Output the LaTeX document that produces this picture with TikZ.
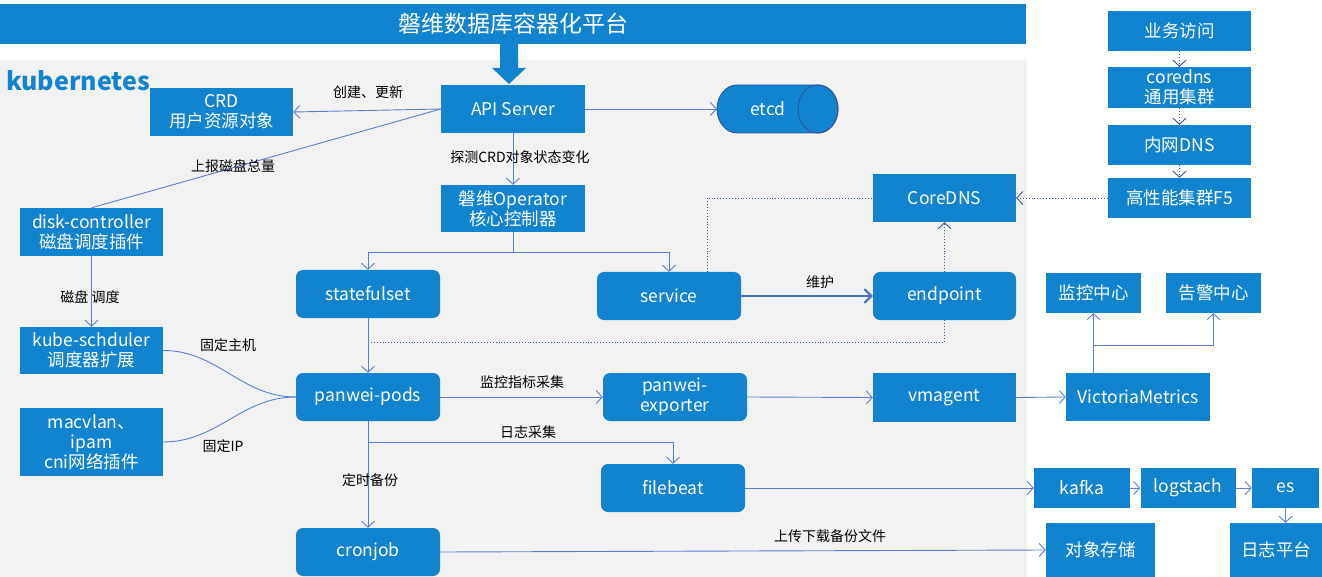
\documentclass[tikz,border=0pt]{standalone}
\usepackage{fontspec}
\setmainfont{Noto Sans CJK SC}
\usetikzlibrary{arrows.meta}
\definecolor{bl}{HTML}{1283CE}
\definecolor{ln}{HTML}{5A7FD2}
\definecolor{thk}{HTML}{4472C4}
\definecolor{dk}{HTML}{2F5597}
\definecolor{bg}{HTML}{F2F2F2}
\begin{document}
\begin{tikzpicture}[x=1pt,y=-1pt,
  box/.style={fill=bl,text=white,inner sep=0pt,align=center,font=\fontsize{17.5}{20}\selectfont},
  rbox/.style={box,rounded corners=7pt},
  lbl/.style={font=\fontsize{14}{16}\selectfont,text=black,inner sep=0pt},
  con/.style={draw=ln,line width=0.9pt},
  arr/.style={con,-{Straight Barb[length=6pt,width=13pt]}},
  dot/.style={draw=dk,line width=0.9pt,dotted},
  dotarr/.style={dot,-{Straight Barb[length=6pt,width=13pt]}}]
\useasboundingbox (0,0) rectangle (1322,577);
\fill[bg] (0,60) rectangle (1027,577);
% title
\node[fill=bl,minimum width=1026,minimum height=40,inner sep=0pt,text=white,font=\fontsize{23}{26}\selectfont] (title) at (513,24) {磐维数据库容器化平台};
\fill[bl] (500,44) -- (518,44) -- (518,68) -- (526,68) -- (509,84) -- (492,68) -- (500,68) -- cycle;
\node[anchor=west,text=bl,font=\fontsize{25}{28}\selectfont\bfseries,inner sep=0pt] (k8s) at (6,81) {kubernetes};
% nodes
\node[box,minimum width=143,minimum height=48] (crd) at (221.5,112) {CRD\\用户资源对象};
\node[box,minimum width=144,minimum height=48] (api) at (513,109) {API Server};
\node[box,minimum width=144,minimum height=47] (oper) at (513,208.5) {磐维Operator\\核心控制器};
\node[box,minimum width=143,minimum height=48] (coredns) at (944.5,198) {CoreDNS};
\node[box,minimum width=143,minimum height=48] (disk) at (91.5,232) {disk-controller\\磁盘调度插件};
\node[rbox,minimum width=144,minimum height=48] (sts) at (368,294) {statefulset};
\node[rbox,minimum width=144,minimum height=48] (svc) at (669,296) {service};
\node[rbox,minimum width=143,minimum height=48] (ep) at (944.5,296) {endpoint};
\node[box,minimum width=143,minimum height=47] (ks) at (91.5,350.5) {kube-schduler\\调度器扩展};
\node[rbox,minimum width=144,minimum height=48] (pods) at (368,397) {panwei-pods};
\node[rbox,minimum width=144,minimum height=48] (exp) at (675,397) {panwei-\\exporter};
\node[box,minimum width=143,minimum height=49] (vma) at (944.5,397.5) {vmagent};
\node[box,minimum width=144,minimum height=48] (vm) at (1138,397) {VictoriaMetrics};
\node[box,minimum width=95,minimum height=40] (mon) at (1093.5,293) {监控中心};
\node[box,minimum width=95,minimum height=40] (alert) at (1213.5,293) {告警中心};
\node[box,minimum width=143,minimum height=68] (mac) at (91.5,442) {macvlan、\\ipam\\cni网络插件};
\node[rbox,minimum width=144,minimum height=48] (fb) at (673,488) {filebeat};
\node[box,minimum width=96,minimum height=40] (kafka) at (1082,488) {kafka};
\node[box,minimum width=95,minimum height=40] (logs) at (1188,488) {logstach};
\node[box,minimum width=67,minimum height=40] (es) at (1285.5,488) {es};
\node[box,minimum width=109,minimum height=54] (store) at (1100.5,550) {对象存储};
\node[box,minimum width=92,minimum height=54] (logp) at (1276,550) {日志平台};
\node[rbox,minimum width=144,minimum height=48] (cron) at (368,552) {cronjob};
\node[box,minimum width=143,minimum height=40] (biz) at (1179.5,31) {业务访问};
\node[box,minimum width=143,minimum height=41] (cdns) at (1179.5,87.5) {coredns\\通用集群};
\node[box,minimum width=143,minimum height=40] (idns) at (1179.5,145) {内网DNS};
\node[box,minimum width=143,minimum height=40] (f5) at (1179.5,198) {高性能集群F5};
% etcd cylinder
\path[fill=bl,draw=dk,line width=0.9pt] (737,85) -- (818,85) arc[start angle=-90,end angle=90,x radius=20,y radius=24] -- (737,133) arc[start angle=90,end angle=270,x radius=20,y radius=24] -- cycle;
\draw[dk,line width=0.9pt] (818,109) ellipse[x radius=20,y radius=24];
\node[text=white,font=\fontsize{17.5}{20}\selectfont,inner sep=0pt] (etcd) at (768,109) {etcd};
\coordinate (etcdw) at (717,109);
% coordinates
\coordinate (b1) at (513,252);
\coordinate (d1) at (368,342);
\coordinate (b2) at (368,442);
\coordinate (b3) at (1093.5,345);
% connectors
\draw[arr] (api.west) -- (crd.east);
\draw[con] (api.west) -- (disk.north);
\draw[arr] (api.east) -- (etcdw);
\draw[arr] (api.south) -- (oper.north);
\draw[con] (oper.south) -- (b1);
\draw[arr] (b1) -| (sts.north);
\draw[arr] (b1) -| (svc.north);
\draw[draw=thk,line width=2pt,-{Straight Barb[length=7pt,width=14pt]}] (svc.east) -- (ep.west);
\draw[dot] ([xshift=38pt]svc.north) |- (coredns.west);
\draw[dotarr] (ep.north) -- (coredns.south);
\draw[dot] (ep.south) |- (d1);
\draw[arr] (sts.south) -- (pods.north);
\draw[dotarr] (f5.west) -- (coredns.east);
\draw[dotarr] (biz.south) -- (cdns.north);
\draw[dotarr] (cdns.south) -- (idns.north);
\draw[dotarr] (idns.south) -- (f5.north);
\draw[arr] (disk.south) -- (ks.north);
\draw[con] (ks.east) to[out=0,in=180] (pods.west);
\draw[con] (mac.east) to[out=0,in=180] (pods.west);
\draw[arr] (pods.east) -- (exp.west);
\draw[arr] (pods.south) -- (cron.north);
\draw[arr] (b2) -| (fb.north);
\draw[arr] (exp.east) -- (vma.west);
\draw[arr] (vma.east) -- (vm.west);
\draw[arr] (mon.south |- vm.north) -- (mon.south);
\draw[arr] (b3) -| (alert.south);
\draw[arr] (fb.east) -- (kafka.west);
\draw[arr] (kafka.east) -- (logs.west);
\draw[arr] (logs.east) -- (es.west);
\draw[arr] (es.south) -- (es.south |- logp.north);
\draw[arr] (cron.east) -- (store.west);
% labels
\node[lbl] (l1) at (368,92) {创建、更新};
\node[lbl] (l2) at (233,166) {上报磁盘总量};
\node[lbl] (l3) at (520,157) {探测CRD对象状态变化};
\node[lbl] (l4) at (820,282) {维护};
\node[lbl] (l5) at (90,297) {磁盘 调度};
\node[lbl] (l6) at (228,345) {固定主机};
\node[lbl] (l7) at (223,446) {固定IP};
\node[lbl] (l8) at (522,382) {监控指标采集};
\node[lbl] (l9) at (528,432) {日志采集};
\node[lbl] (l10) at (370,480) {定时备份};
\node[lbl] (l11) at (830,536) {上传下载备份文件};
\end{tikzpicture}
\end{document}
